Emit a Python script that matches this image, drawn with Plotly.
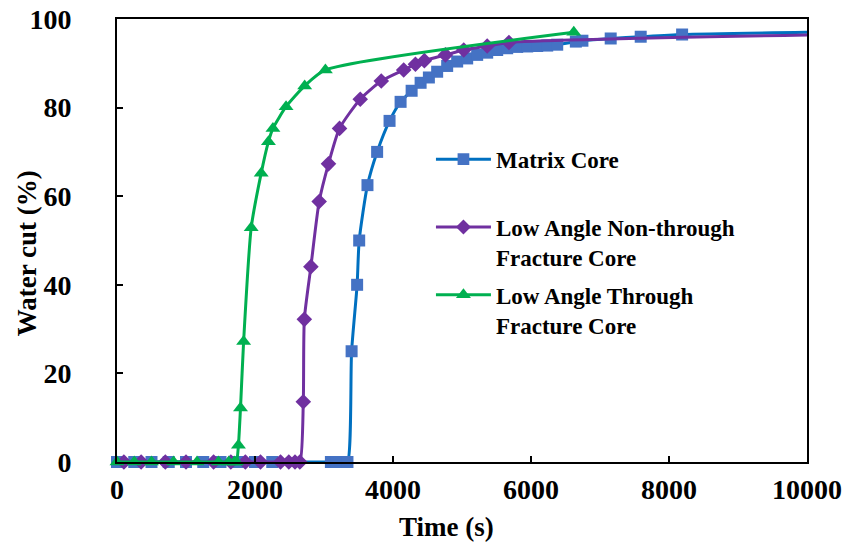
import plotly.graph_objects as go

# ---- data ----
matrix_t = [0, 250, 500, 750, 1000, 1250, 1500, 1750, 2000, 2250, 3100, 3180, 3260, 3340,
            3400, 3480, 3510, 3630, 3770, 3950, 4110, 4270, 4400, 4520, 4640, 4785, 4930,
            5075, 5220, 5365, 5510, 5655, 5800, 5945, 6090, 6235, 6380, 6650, 6745, 7155,
            7590, 8190, 10000]
matrix_wc = [0, 0, 0, 0, 0, 0, 0, 0, 0, 0, 0, 0, 0, 0,
             25, 40, 50, 62.5, 70, 77, 81.3, 83.8, 85.6, 86.8, 88.1, 89.4, 90.4,
             91.1, 91.9, 92.4, 93.0, 93.4, 93.7, 93.8, 93.9, 94.0, 94.2, 94.9, 95.1, 95.6,
             96.0, 96.5, 97.0]

nonthrough_t = [100, 350, 700, 1000, 1400, 1650, 1860, 2080, 2370, 2490, 2580, 2650,
                2700, 2715, 2810, 2930, 3065, 3225, 3525, 3830, 4155, 4325, 4455, 4760,
                5025, 5365, 5680, 10000]
nonthrough_wc = [0, 0, 0, 0, 0, 0, 0, 0, 0, 0, 0, 0,
                 13.6, 32.2, 44.1, 58.8, 67.3, 75.3, 81.9, 86.0, 88.5, 89.8, 90.6, 91.9,
                 93.0, 93.9, 94.7, 96.4]

through_t = [0, 250, 500, 820, 1160, 1470, 1620, 1700, 1730,
             1760, 1790, 1835, 1945, 2090, 2195, 2260, 2450, 2720, 3020, 6620]
through_wc = [0, 0, 0, 0, 0, 0, 0, 0, 0,
              3.8, 12.2, 27.2, 52.9, 65.2, 72.3, 75.3, 80.2, 84.9, 88.5, 97.0]

x_ticks = [0, 2000, 4000, 6000, 8000, 10000]
x_ticktext = ["0", "2000", "4000", "6000", "8000", "10000"]
y_ticks = [0, 20, 40, 60, 80, 100]

names = ["Matrix Core<br> ", "Low Angle Non-through<br>Fracture Core",
         "Low Angle Through<br>Fracture Core"]

FONT = "Liberation Serif"

fig = go.Figure()

msz_m = [12] * (len(matrix_t) - 1) + [0]
fig.add_trace(go.Scatter(
    x=matrix_t, y=matrix_wc, name=names[0], mode="lines+markers",
    line=dict(color="#0070C0", width=3, shape="spline", smoothing=0.6),
    marker=dict(symbol="square", size=msz_m, color="#4472C4", opacity=1,
                line=dict(width=0)),
    cliponaxis=False, legendgroup="a"))

msz_n = [12] * (len(nonthrough_t) - 1) + [0]
fig.add_trace(go.Scatter(
    x=nonthrough_t, y=nonthrough_wc, name=names[1], mode="lines+markers",
    line=dict(color="#7030A0", width=3, shape="spline", smoothing=0.6),
    marker=dict(symbol="diamond", size=msz_n, color="#7030A0", opacity=1,
                line=dict(width=0)),
    cliponaxis=False, legendgroup="b"))

fig.add_trace(go.Scatter(
    x=through_t, y=through_wc, name=names[2], mode="lines+markers",
    line=dict(color="#00B050", width=3, shape="spline", smoothing=0.6),
    marker=dict(symbol="triangle-up", size=13, color="#00B050", opacity=1,
                line=dict(width=0)),
    cliponaxis=False, legendgroup="c"))

axis_common = dict(
    showgrid=False, zeroline=False, showline=True, linecolor="black", linewidth=2,
    mirror=True, ticks="inside", ticklen=6, tickwidth=1.5, tickcolor="black",
    automargin=False,
    tickfont=dict(family=FONT, size=28, color="black", weight="bold"),
)

fig.update_xaxes(range=[0, 10000], tickvals=x_ticks, ticktext=x_ticktext,
                 ticklabelstandoff=1, **axis_common)
fig.update_yaxes(range=[0, 100], tickvals=y_ticks,
                 ticklabelstandoff=38, **axis_common)

fig.add_annotation(text="Time (s)", xref="paper", yref="paper",
                   x=(446 - 117) / 689, y=-0.147, xanchor="center", yanchor="middle",
                   showarrow=False, font=dict(family=FONT, size=27, color="black", weight="bold"))
fig.add_annotation(text="Water cut (%)", xref="paper", yref="paper",
                   x=-0.13, y=(462 - 253) / 443, xanchor="center", yanchor="middle",
                   textangle=-90, showarrow=False,
                   font=dict(family=FONT, size=27, color="black", weight="bold"))

fig.update_layout(
    width=842, height=544,
    margin=dict(l=117, r=35, t=19, b=82),
    paper_bgcolor="white", plot_bgcolor="white",
    showlegend=True,
    legend=dict(x=0.455, y=0.732, xanchor="left", yanchor="top",
                bgcolor="rgba(0,0,0,0)", traceorder="grouped", tracegroupgap=5,
                valign="top", itemwidth=55,
                font=dict(family=FONT, size=23, color="black", weight="bold")),
)

fig.write_html("out.html", config={"displayModeBar": False},
               post_script="document.body.style.margin='0';document.body.style.overflow='hidden';")
